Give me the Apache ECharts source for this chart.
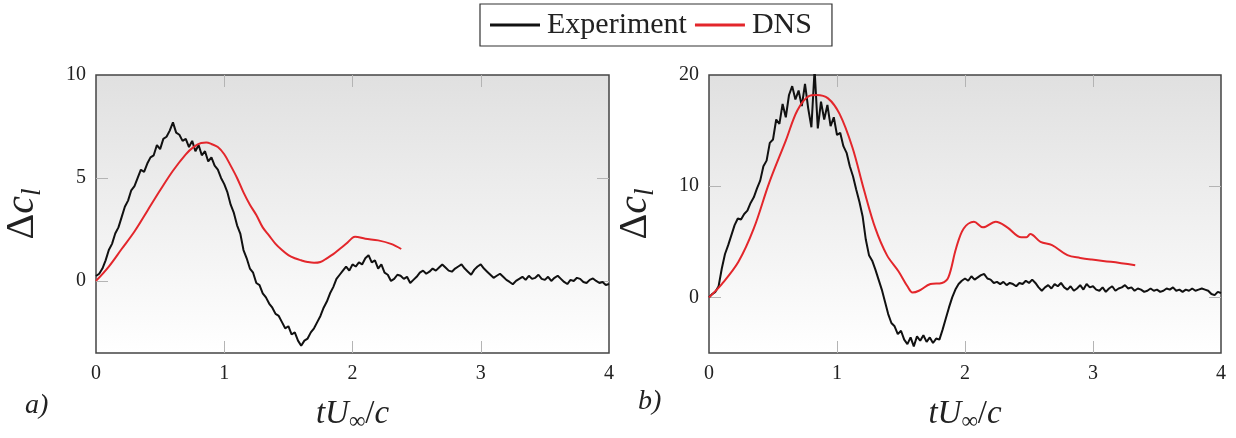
<!DOCTYPE html>
<html><head><meta charset="utf-8">
<script src="https://cdn.jsdelivr.net/npm/echarts@6/dist/echarts.min.js"></script>
<style>html,body{margin:0;padding:0;background:#fff}#c{width:1236px;height:438px}</style>
</head><body><div id="c"></div>
<script>
// ---- data ----
const EXP_STEP = 0.025; // sampling of experimental curves, t = 0 .. 4
const expA = [0.24,0.35,0.6,1.0,1.5,1.8,2.3,2.6,3.1,3.6,
3.9,4.4,4.6,5.0,5.4,5.3,5.7,6.0,6.1,6.6,
6.4,6.9,7.0,7.3,7.7,7.2,7.1,6.8,6.9,6.5,
6.8,6.3,6.6,6.1,6.3,5.8,6.0,5.6,5.4,5.0,
4.7,4.3,3.7,3.3,2.7,2.3,1.5,1.1,0.6,0.4,
-0.1,-0.2,-0.6,-0.8,-1.1,-1.3,-1.6,-1.7,-2.0,-2.3,
-2.2,-2.6,-2.5,-2.9,-3.15,-2.9,-2.8,-2.5,-2.3,-2.0,
-1.7,-1.3,-1.0,-0.6,-0.3,0.1,0.3,0.5,0.7,0.5,
0.8,0.7,0.9,0.8,1.1,1.25,0.9,1.0,0.6,0.8,
0.4,0.3,0.0,0.1,0.3,0.25,0.1,0.2,-0.1,0.05,
0.2,0.4,0.5,0.35,0.45,0.6,0.5,0.65,0.8,0.65,
0.5,0.45,0.6,0.7,0.8,0.6,0.45,0.3,0.55,0.7,
0.8,0.6,0.45,0.3,0.15,0.25,0.35,0.2,0.05,-0.05,
-0.16,0.0,0.1,0.2,0.05,0.25,0.1,0.15,0.3,0.1,
0.05,0.2,0.0,0.15,0.25,0.1,-0.05,-0.15,0.05,0.0,
0.15,0.1,-0.05,-0.1,0.05,0.12,0.0,-0.1,-0.05,-0.2,
-0.15];
const dnsAT = [0,0.1,0.2,0.3,0.4,0.5,0.6,0.7,0.76,0.82,0.86,0.9,0.95,1.0,1.05,1.1,1.15,1.2,1.25,1.3,1.35,1.4,1.45,1.5,1.55,1.6,1.65,1.7,1.75,1.8,1.85,1.9,1.95,2.0,2.02,2.1,2.2,2.3,2.38];
const dnsA  = [0,0.7,1.55,2.4,3.4,4.4,5.35,6.15,6.5,6.7,6.72,6.65,6.5,6.15,5.6,5.0,4.3,3.7,3.2,2.6,2.2,1.8,1.5,1.25,1.1,1.0,0.92,0.88,0.92,1.1,1.3,1.55,1.8,2.1,2.15,2.05,1.97,1.8,1.55];
const expB = [0.0,0.3,0.5,1.0,2.6,3.9,4.7,5.6,6.5,7.1,
7.0,7.5,7.8,8.5,9.0,9.8,10.5,11.8,12.3,13.9,
14.2,16.0,15.6,17.4,16.2,18.2,19.0,17.8,18.6,17.2,
19.2,17.0,15.3,20.5,15.2,17.6,16.0,17.3,15.4,16.2,
14.6,14.8,13.6,13.0,11.8,10.9,9.7,8.6,7.3,5.2,
3.8,3.3,2.5,1.6,0.7,-0.4,-1.5,-2.3,-2.6,-3.3,
-3.0,-3.8,-4.2,-3.6,-4.4,-3.5,-3.9,-3.4,-4.0,-3.6,
-4.1,-3.7,-3.8,-2.9,-1.9,-0.9,0.0,0.7,1.2,1.5,
1.7,1.5,1.9,1.6,1.8,2.0,2.1,1.7,1.6,1.3,
1.4,1.2,1.4,1.1,1.3,1.2,1.0,1.3,1.2,1.5,
1.3,1.6,1.3,0.9,0.6,0.9,1.1,0.8,1.2,1.0,
1.3,0.9,0.7,1.0,0.6,0.8,1.1,0.7,1.2,0.9,
1.0,0.7,0.6,0.9,0.5,0.8,1.0,0.6,0.8,0.9,
1.1,0.8,0.9,0.6,0.8,0.7,0.5,0.6,0.8,0.6,
0.7,0.5,0.6,0.8,0.7,0.9,0.6,0.7,0.5,0.7,
0.6,0.8,0.6,0.7,0.8,0.7,0.6,0.3,0.2,0.5,
0.4];
const dnsBT = [0,0.1,0.23,0.35,0.47,0.6,0.69,0.78,0.84,0.93,1.02,1.12,1.21,1.3,1.39,1.48,1.55,1.59,1.64,1.73,1.82,1.87,1.93,1.99,2.07,2.14,2.24,2.33,2.44,2.48,2.51,2.59,2.68,2.8,2.9,2.99,3.14,3.33];
const dnsB  = [0,1.2,3.2,6.2,10.3,14.1,16.8,18.1,18.2,17.9,16.5,13.5,9.7,6.2,3.8,2.35,1.0,0.44,0.6,1.2,1.3,1.8,4.4,6.2,6.8,6.3,6.8,6.3,5.4,5.4,5.7,5.0,4.7,3.8,3.55,3.4,3.2,2.9];
const xTicks = [0,1,2,3,4];
const xInnerTicks = [1,2,3];
const yTicksA = [0,5,10];
const yInnerTicksA = [0,5];
const yTicksB = [0,10,20];
const yInnerTicksB = [0,10];
const seriesNames = ['Experiment','DNS'];

// ---- chart ----
const FF = '"Liberation Serif","DejaVu Serif",serif';
const tExp = expA.map((_, i) => +(i * EXP_STEP).toFixed(3));
const pairs = (ts, vs) => vs.map((v, i) => [ts[i], v]);
const chart = echarts.init(document.getElementById('c'), null, {renderer: 'canvas'});

const bg = () => new echarts.graphic.LinearGradient(0, 0, 0, 1, [
  {offset: 0, color: '#e0e0e0'}, {offset: 1, color: '#ffffff'}]);
const gridDef = (left, right) => ({left, right, top: 75, bottom: 78, show: true,
  backgroundColor: bg(), borderColor: '#444', borderWidth: 1.5});

const tickStyle = {show: true, inside: true, length: 12, lineStyle: {color: '#b4b4b4', width: 1}};
const xName = '{i|tU}{s|∞}{n|/}{i|c}';
const xRich = {
  i: {fontFamily: FF, fontStyle: 'italic', fontSize: 33, color: '#222'},
  n: {fontFamily: FF, fontSize: 33, color: '#222'},
  s: {fontFamily: FF, fontSize: 23, color: '#222', padding: [15, 0, 0, 0]}
};
const yName = '{d|Δ}{c|c}{s|l}';
const yRich = {
  d: {fontFamily: FF, fontSize: 40, color: '#222'},
  c: {fontFamily: FF, fontStyle: 'italic', fontSize: 40, color: '#222'},
  s: {fontFamily: FF, fontStyle: 'italic', fontSize: 27, color: '#222', padding: [20, 0, 0, 0]}
};
function xAx(gi, pos) {
  const bottom = pos === 'bottom';
  return {type: 'value', gridIndex: gi, position: pos, min: xTicks[0], max: xTicks[xTicks.length - 1], interval: 1,
    axisLine: {show: false, onZero: false}, splitLine: {show: false},
    axisTick: Object.assign({}, tickStyle, {customValues: xInnerTicks}),
    axisLabel: {show: bottom, customValues: xTicks, margin: 11, fontFamily: FF, fontSize: 20, color: '#222'},
    name: bottom ? xName : '', nameLocation: 'middle', nameGap: 42,
    nameTextStyle: {rich: xRich}};
}
function yAx(gi, pos, lo, hi, ticks, innerTicks) {
  const left = pos === 'left';
  return {type: 'value', gridIndex: gi, position: pos, min: lo, max: hi,
    axisLine: {show: false, onZero: false}, splitLine: {show: false},
    axisTick: Object.assign({}, tickStyle, {customValues: innerTicks}),
    axisLabel: {show: left, customValues: ticks, margin: 10, fontFamily: FF, fontSize: 20, color: '#222'},
    name: left ? yName : '', nameLocation: 'middle', nameGap: 50, nameRotate: 90,
    nameTextStyle: {rich: yRich}};
}
const lineS = (name, xi, yi, data, color, smooth) => ({
  name, type: 'line', xAxisIndex: xi, yAxisIndex: yi, data, showSymbol: false, symbol: 'none',
  smooth: smooth, lineStyle: {color, width: 2}, itemStyle: {color}, clip: true, silent: true,
  z: color === '#111' ? 2 : 3
});

chart.setOption({
  animation: false,
  backgroundColor: '#ffffff',
  grid: [gridDef(96, 627), gridDef(709, 15)],
  xAxis: [xAx(0, 'bottom'), xAx(0, 'top'), xAx(1, 'bottom'), xAx(1, 'top')],
  yAxis: [yAx(0, 'left', -3.5, 10, yTicksA, yInnerTicksA), yAx(0, 'right', -3.5, 10, yTicksA, yInnerTicksA),
          yAx(1, 'left', -5, 20, yTicksB, yInnerTicksB), yAx(1, 'right', -5, 20, yTicksB, yInnerTicksB)],
  legend: {left: 480, top: 4, padding: [6, 20, 6, 10], itemGap: 8, itemWidth: 50, itemHeight: 3,
    icon: 'rect',
    borderColor: '#333', borderWidth: 1.2, backgroundColor: '#fff',
    textStyle: {fontFamily: FF, fontSize: 30, color: '#222', padding: [0, 0, 0, 2]},
    data: seriesNames},
  graphic: [
    {type: 'text', left: 25, top: 392, style: {text: 'a)', font: 'italic 28px ' + FF, fill: '#222'}},
    {type: 'text', left: 638, top: 388, style: {text: 'b)', font: 'italic 28px ' + FF, fill: '#222'}}
  ],
  series: [
    lineS(seriesNames[0], 0, 0, pairs(tExp, expA), '#111', false),
    lineS(seriesNames[1], 0, 0, pairs(dnsAT, dnsA), '#e3262b', 0.35),
    lineS(seriesNames[0], 2, 2, pairs(tExp, expB), '#111', false),
    lineS(seriesNames[1], 2, 2, pairs(dnsBT, dnsB), '#e3262b', 0.35)
  ]
});
</script></body></html>
